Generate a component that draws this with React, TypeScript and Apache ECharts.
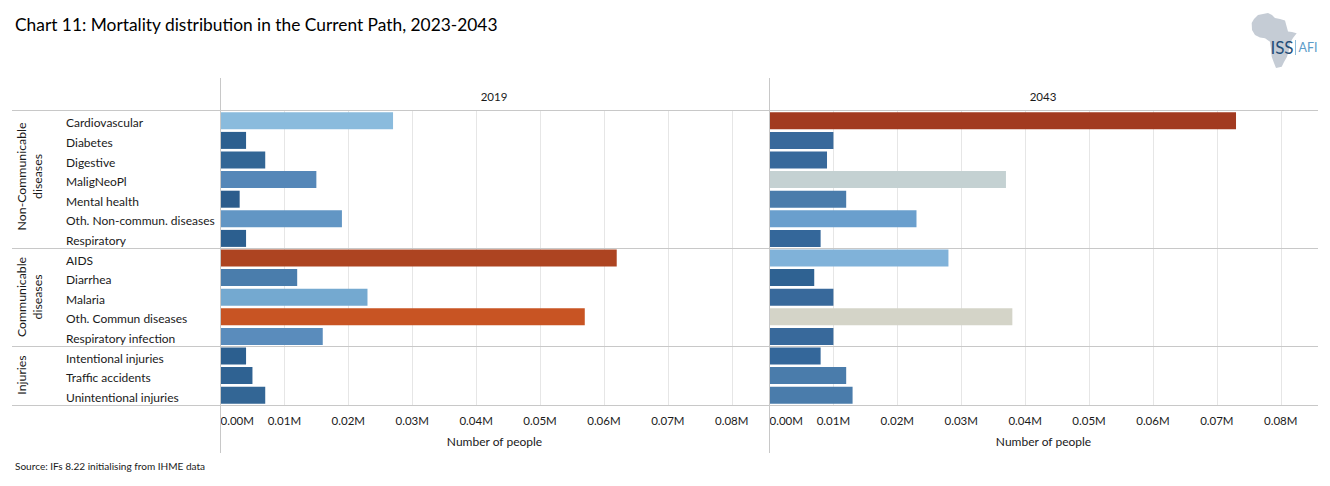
import React, { useEffect, useRef } from "react";
import * as echarts from "echarts";

const FONT = "Lato, Carlito, sans-serif";
const CATEGORIES = ["Cardiovascular","Diabetes","Digestive","MaligNeoPl","Mental health","Oth. Non-commun. diseases","Respiratory","AIDS","Diarrhea","Malaria","Oth. Commun diseases","Respiratory infection","Intentional injuries","Traffic accidents","Unintentional injuries"];
const VALUES_2019 = [0.027,0.004,0.007,0.015,0.003,0.019,0.004,0.062,0.012,0.023,0.057,0.016,0.004,0.005,0.007];
const VALUES_2043 = [0.073,0.010,0.009,0.037,0.012,0.023,0.008,0.028,0.007,0.010,0.038,0.010,0.008,0.012,0.013];
const COLORS_2019 = ["#8abbdd","#2c5f8f","#336695","#5587b8","#2c5c8c","#6296c4","#2c5f8f","#ad4421","#4a7dac","#74a9d0","#c85423","#5a8cbc","#2c5f8f","#2f6292","#336695"];
const COLORS_2043 = ["#a23a20","#38699b","#38699b","#c4d1d2","#4a7cab","#6a9fcd","#34679a","#80b2d9","#2f6292","#38699b","#d4d4c8","#38699b","#34679a","#4a7cab","#4a7cab"];
const PANEL_YEARS = ["2019", "2043"];
const GROUP_NAMES = ["Non-Communicable\ndiseases", "Communicable\ndiseases", "Injuries"];
const TITLE = "Chart 11: Mortality distribution in the Current Path, 2023-2043";
const SOURCE = "Source: IFs 8.22 initialising from IHME data";
const AXIS_NAME = "Number of people";

const africa = echarts.graphic.extendPath(
  "M1251.7 23 L1254 19 L1258 15 L1263 14 L1268 13 L1272 15 L1275 18 L1280 19 L1285 20.5 L1286.5 26 L1288 31.5 L1292 32 L1296.7 33.3 L1293 38 L1290 43 L1289 50 L1287 56.7 L1284 62 L1281.7 66.7 L1276 68 L1274 63 L1271.7 56.7 L1271 49 L1270 41.7 L1265 38.3 L1260 37.5 L1255 35 L1252 30 Z",
  {}
);
echarts.graphic.registerShape("africa", africa);

const LINE = "#c8c8c8";
const hLine = (y: number) => ({ type: "line", silent: true, z: 5, shape: { x1: 12, y1: y, x2: 1318, y2: y }, style: { stroke: LINE, lineWidth: 1 } });
const vLine = (x: number) => ({ type: "line", silent: true, z: 5, shape: { x1: x, y1: 78, x2: x, y2: 453 }, style: { stroke: LINE, lineWidth: 1 } });
const txt = (x: number, y: number, text: string, fontSize: number, extra: any = {}, color = "#1a1a1a") => ({
  type: "text", x, y, z: 6, silent: true, ...extra,
  style: { text, fontFamily: FONT, fontSize, fill: color, align: "center", verticalAlign: "middle", ...(extra.style || {}) },
});

const xAxis = (gridIndex: number) => ({
  type: "value", gridIndex, min: 0, max: 0.08575, interval: 0.01,
  name: AXIS_NAME, nameLocation: "middle", nameGap: 30,
  nameTextStyle: { fontFamily: FONT, fontSize: 12, color: "#1a1a1a" },
  axisLine: { show: false }, axisTick: { show: false },
  axisLabel: {
    fontFamily: FONT, fontSize: 11.5, color: "#1a1a1a", margin: 9,
    alignMinLabel: "left", showMaxLabel: false, showMinLabel: true,
    formatter: (v: number) => (v > 0.0801 ? "" : v.toFixed(2) + "M"),
  },
  splitLine: { show: true, showMinLine: false, showMaxLine: false, lineStyle: { color: "#e6e6e6", width: 1 } },
});

const yAxis = (gridIndex: number, showLabels: boolean) => ({
  type: "category", gridIndex, inverse: true, data: CATEGORIES,
  axisLine: { show: false }, axisTick: { show: false },
  axisLabel: { show: showLabels, interval: 0, align: "left", verticalAlign: "top", lineHeight: 4, margin: 154.5, fontFamily: FONT, fontSize: 12, color: "#1a1a1a" },
});

const series = (i: number, values: number[], colors: string[]) => ({
  type: "bar", xAxisIndex: i, yAxisIndex: i, barWidth: 17, silent: true,
  data: values.map((value, k) => ({ value, itemStyle: { color: colors[k] } })),
});

export default function App() {
  const ref = useRef<HTMLDivElement>(null);
  useEffect(() => {
    document.body.style.margin = "0";
    const chart = echarts.init(ref.current!, null, { renderer: "svg" });
    chart.setOption({
      animation: false,
      backgroundColor: "#ffffff",
      grid: [
        { left: 220.5, top: 111, width: 548, height: 294 },
        { left: 769.5, top: 111, width: 548, height: 294 },
      ],
      xAxis: [xAxis(0), xAxis(1)],
      yAxis: [yAxis(0, true), yAxis(1, false)],
      series: [series(0, VALUES_2019, COLORS_2019), series(1, VALUES_2043, COLORS_2043)],
      graphic: [
        hLine(110.5), hLine(248.5), hLine(346.5), hLine(405.5),
        vLine(220.5), vLine(769.5),
        txt(15, 24.5, TITLE, 17.35, { style: { align: "left" } }, "#000000"),
        txt(15, 466, SOURCE, 10.05, { style: { align: "left" } }),
        txt(494, 96.5, PANEL_YEARS[0], 11.5),
        txt(1043, 96.5, PANEL_YEARS[1], 11.5),
        txt(29.5, 176.5, GROUP_NAMES[0], 12.3, { rotation: Math.PI / 2, style: { lineHeight: 16 } }),
        txt(29.5, 297, GROUP_NAMES[1], 12.3, { rotation: Math.PI / 2, style: { lineHeight: 16 } }),
        txt(21.5, 375, GROUP_NAMES[2], 12.3, { rotation: Math.PI / 2 }),
        { type: "africa", z: 6, silent: true, style: { fill: "#c5ccd5" } },
        txt(1282, 47.5, "ISS", 17, {}, "#1f4e79"),
        { type: "line", z: 6, silent: true, shape: { x1: 1295.5, y1: 40, x2: 1295.5, y2: 55 }, style: { stroke: "#8dbbd9", lineWidth: 1 } },
        txt(1308, 47.5, "AFI", 12.5, {}, "#5c9cc9"),
      ],
    });
    return () => chart.dispose();
  }, []);
  return <div ref={ref} style={{ width: 1330, height: 486 }} />;
}
